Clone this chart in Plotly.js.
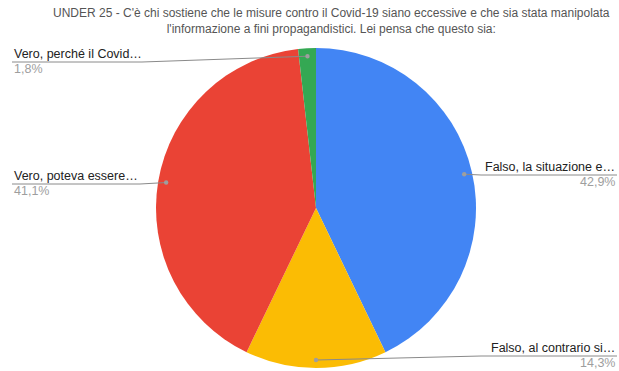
<!DOCTYPE html>
<html><head><meta charset="utf-8">
<script src="https://cdn.plot.ly/plotly-3.0.1.min.js"></script>
<style>html,body{margin:0;padding:0;background:#fff}#chart{width:619px;height:371px}</style>
</head><body><div id="chart"></div>
<script>
const titleLines = ["UNDER 25 - C'è chi sostiene che le misure contro il Covid-19 siano eccessive e che sia stata manipolata", "l'informazione a fini propagandistici. Lei pensa che questo sia:"];
const categories = ["Falso, la situazione e…", "Falso, al contrario si…", "Vero, poteva essere…", "Vero, perché il Covid…"];
const counts = [24, 8, 23, 1];
const colors = ["#4285F4", "#FBBC04", "#EA4335", "#34A853"];

// pie geometry in pixels
const W = 619, H = 371;
const cx = 316, cy = 208, R = 160;
// label placement (layout only)
const labelSide = ["right", "right", "left", "left"];
const labelLineY = [175, 356, 184, 62];
const leftX = 12, rightX = 617;
const labelWidth = [136, 136, 128, 130];

const total = counts.reduce((a, b) => a + b, 0);
const annotations = [];
const shapes = [];
const FONT = "Liberation Sans, Arial, sans-serif";
let cum = 0;
counts.forEach((v, i) => {
  const mid = (cum + v / 2) / total * 2 * Math.PI;
  cum += v;
  const dx = cx + 0.95 * R * Math.sin(mid);
  const dy = cy - 0.95 * R * Math.cos(mid);
  const y = labelLineY[i];
  const right = labelSide[i] === "right";
  const edge = right ? rightX : leftX;
  const inner = right ? rightX - labelWidth[i] : leftX + labelWidth[i];
  shapes.push({type: "path", xref: "x", yref: "y",
    path: `M${dx},${dy} L${inner},${y} L${edge},${y}`,
    line: {color: "#8a8a8a", width: 1}});
  shapes.push({type: "circle", xref: "x", yref: "y", x0: dx - 2.2, x1: dx + 2.2, y0: dy - 2.2, y1: dy + 2.2,
    fillcolor: "#9e9e9e", line: {width: 0}});
  const pct = (v / total * 100).toFixed(1).replace(".", ",") + "%";
  annotations.push({xref: "x", yref: "y", x: edge, y: y + 1, text: categories[i], showarrow: false,
    xanchor: right ? "right" : "left", yanchor: "bottom",
    font: {family: FONT, size: 12.5, color: "#222222"}});
  annotations.push({xref: "x", yref: "y", x: edge, y: y - 2, text: pct, showarrow: false,
    xanchor: right ? "right" : "left", yanchor: "top",
    font: {family: FONT, size: 12.5, color: "#9e9e9e"}});
});

annotations.push({xref: "paper", yref: "y", x: 0.535, y: 4, yanchor: "top", xanchor: "center",
  text: titleLines.join("<br>"), showarrow: false, align: "center",
  font: {family: FONT, size: 12, color: "#555555"}});

const data = [{
  type: "pie", labels: categories, values: counts, sort: false, direction: "clockwise", rotation: 0,
  marker: {colors: colors, line: {width: 0}}, textinfo: "none", hoverinfo: "label+percent",
  domain: {x: [(cx - R) / W, (cx + R) / W], y: [1 - (cy + R) / H, 1 - (cy - R) / H]},
  showlegend: false
}];
const layout = {
  width: W, height: H, margin: {l: 0, r: 0, t: 0, b: 0},
  paper_bgcolor: "#fff", plot_bgcolor: "rgba(0,0,0,0)",
  xaxis: {range: [0, W], visible: false, fixedrange: true},
  yaxis: {range: [H, 0], visible: false, fixedrange: true},
  shapes: shapes, annotations: annotations, showlegend: false
};
Plotly.newPlot("chart", data, layout, {displayModeBar: false, staticPlot: true});
</script></body></html>
